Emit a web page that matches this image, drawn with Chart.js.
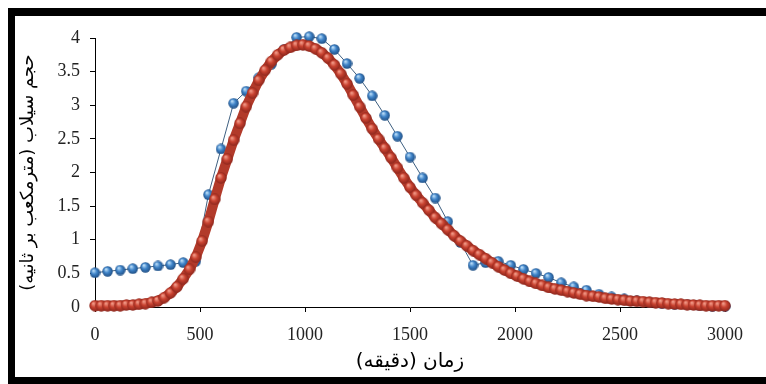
<!DOCTYPE html>
<html>
<head>
<meta charset="utf-8">
<script src="https://cdn.jsdelivr.net/npm/chart.js@4"></script>
<style>
  html, body { margin: 0; padding: 0; background: #fff; }
  #wrap { position: relative; width: 766px; height: 384px; overflow: hidden; }
  #frame {
    position: absolute; left: 8px; top: 8px; right: 0; bottom: 0;
    border-top: 8px solid #000; border-left: 7px solid #000; border-bottom: 7px solid #000;
    pointer-events: none;
  }
</style>
</head>
<body>
<div id="wrap">
  <canvas id="chart" width="766" height="384"></canvas>
  <div id="frame"></div>
</div>
<script>
// observed hydrograph (blue), every 60 minutes
const observedTime = [0, 60, 120, 180, 240, 300, 360, 420, 480, 540, 600, 660, 720, 780, 840, 900, 960, 1020,
  1080, 1140, 1200, 1260, 1320, 1380, 1440, 1500, 1560, 1620, 1680, 1740, 1800, 1860, 1920, 1980, 2040,
  2100, 2160, 2220, 2280, 2340, 2400, 2460, 2520, 2580, 2640, 2700, 2760, 2820, 2880, 2940, 3000];
const observedFlow = [0.51, 0.53, 0.55, 0.57, 0.59, 0.61, 0.63, 0.66, 0.68, 1.67, 2.35, 3.03, 3.21, 3.41, 3.61,
  3.83, 4.01, 4.02, 3.99, 3.83, 3.62, 3.40, 3.14, 2.85, 2.54, 2.23, 1.92, 1.62, 1.27, 0.96, 0.62, 0.66, 0.68,
  0.62, 0.56, 0.50, 0.44, 0.36, 0.30, 0.25, 0.19, 0.15, 0.12, 0.09, 0.07, 0.05, 0.04, 0.03, 0.02, 0.01, 0.01];

// simulated hydrograph (red), every 30 minutes
const simulatedTime = [0, 30, 60, 90, 120, 150, 180, 210, 240, 270, 300, 330, 360, 390, 420, 450, 480, 510,
  540, 570, 600, 630, 660, 690, 720, 750, 780, 810, 840, 870, 900, 930, 960, 990, 1020, 1050, 1080, 1110,
  1140, 1170, 1200, 1230, 1260, 1290, 1320, 1350, 1380, 1410, 1440, 1470, 1500, 1530, 1560, 1590, 1620,
  1650, 1680, 1710, 1740, 1770, 1800, 1830, 1860, 1890, 1920, 1950, 1980, 2010, 2040, 2070, 2100, 2130,
  2160, 2190, 2220, 2250, 2280, 2310, 2340, 2370, 2400, 2430, 2460, 2490, 2520, 2550, 2580, 2610, 2640,
  2670, 2700, 2730, 2760, 2790, 2820, 2850, 2880, 2910, 2940, 2970, 3000];
const simulatedFlow = [0.02, 0.02, 0.02, 0.02, 0.02, 0.03, 0.03, 0.04, 0.05, 0.07, 0.09, 0.14, 0.21, 0.30,
  0.42, 0.56, 0.74, 0.98, 1.27, 1.60, 1.92, 2.20, 2.48, 2.73, 2.98, 3.18, 3.37, 3.52, 3.65, 3.75, 3.82, 3.86,
  3.89, 3.90, 3.88, 3.84, 3.78, 3.70, 3.60, 3.47, 3.32, 3.15, 2.98, 2.81, 2.65, 2.50, 2.36, 2.22, 2.07, 1.92,
  1.78, 1.66, 1.55, 1.44, 1.33, 1.24, 1.15, 1.06, 0.98, 0.91, 0.84, 0.78, 0.72, 0.66, 0.60, 0.55, 0.50, 0.46,
  0.42, 0.38, 0.35, 0.32, 0.29, 0.27, 0.25, 0.23, 0.21, 0.19, 0.17, 0.16, 0.15, 0.13, 0.12, 0.11, 0.10, 0.09,
  0.085, 0.08, 0.07, 0.065, 0.06, 0.05, 0.045, 0.04, 0.035, 0.03, 0.025, 0.02, 0.02, 0.02, 0.02];

const xTicks = [0, 500, 1000, 1500, 2000, 2500, 3000];
const yTicks = [0, 0.5, 1, 1.5, 2, 2.5, 3, 3.5, 4];
const xTitle = 'زمان (دقیقه)';
const yTitle = 'حجم سیلاب (مترمکعب بر ثانیه)';

// small shaded ball used as the marker
function ball(light, mid, dark, d) {
  const c = document.createElement('canvas');
  c.width = d; c.height = d;
  const g = c.getContext('2d');
  const r = d / 2;
  const grad = g.createRadialGradient(r * 0.7, r * 0.6, 0.5, r, r, r);
  grad.addColorStop(0, light);
  grad.addColorStop(0.45, mid);
  grad.addColorStop(1, dark);
  g.fillStyle = grad;
  g.beginPath();
  g.arc(r, r, r - 0.3, 0, Math.PI * 2);
  g.fill();
  return c;
}

const blueBall = ball('#b9dcf7', '#3f84c9', '#1d4b80', 11);
const redBall = ball('#f19a88', '#c94230', '#86241b', 12);

const tickFont = { family: '"Liberation Serif", "Times New Roman", serif', size: 18 };
const titleFont = { family: '"DejaVu Sans", sans-serif', size: 18 };

new Chart(document.getElementById('chart'), {
  type: 'scatter',
  data: {
    datasets: [
      {
        label: 'simulated',
        data: simulatedTime.map((t, i) => ({ x: t, y: simulatedFlow[i] })),
        showLine: true,
        borderColor: '#b23a2a',
        borderWidth: 10,
        borderCapStyle: 'round',
        borderJoinStyle: 'round',
        pointStyle: redBall,
        pointRadius: 6,
        clip: false,
      },
      {
        label: 'observed',
        data: observedTime.map((t, i) => ({ x: t, y: observedFlow[i] })),
        showLine: true,
        borderColor: '#3e5f80',
        borderWidth: 1,
        pointStyle: blueBall,
        pointRadius: 5,
        clip: false,
      },
    ],
  },
  options: {
    responsive: false,
    animation: false,
    layout: { padding: { left: 15, top: 38, right: 41, bottom: 10 } },
    plugins: { legend: { display: false }, tooltip: { enabled: false } },
    scales: {
      x: {
        type: 'linear', min: 0, max: 3000,
        afterBuildTicks: s => { s.ticks = xTicks.map(v => ({ value: v })); },
        afterFit: s => { s.height = 67; },
        ticks: { color: '#222', font: tickFont, padding: 12, maxRotation: 0, callback: v => String(v) },
        grid: { drawOnChartArea: false, drawTicks: true, tickLength: 5, color: '#000' },
        border: { color: '#000', width: 1 },
        title: { display: true, text: xTitle, color: '#000', font: { ...titleFont, size: 20 }, padding: { top: 0, bottom: 0 } },
      },
      y: {
        type: 'linear', min: 0, max: 4,
        afterBuildTicks: s => { s.ticks = yTicks.map(v => ({ value: v })); },
        afterFit: s => { s.width = 80; },
        ticks: { color: '#222', font: tickFont, padding: 10, callback: v => String(v) },
        grid: { drawOnChartArea: false, drawTicks: true, tickLength: 5, color: '#000' },
        border: { color: '#000', width: 1 },
        title: { display: true, text: yTitle, color: '#000', font: titleFont, padding: { top: 3, bottom: 0 } },
      },
    },
  },
});
</script>
</body>
</html>
